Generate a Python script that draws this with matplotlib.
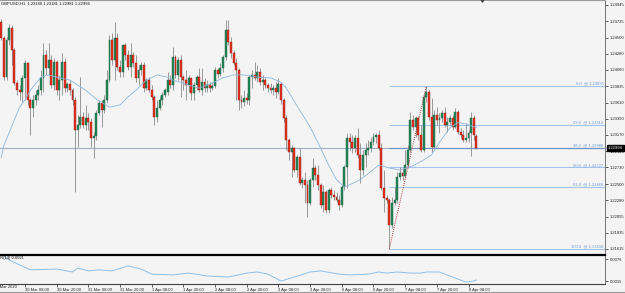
import matplotlib
matplotlib.use("Agg")
import matplotlib.pyplot as plt
import matplotlib.transforms as mtrans
from matplotlib.patches import Rectangle
from matplotlib.lines import Line2D

plt.rcParams['font.family'] = ['Liberation Sans', 'DejaVu Sans']

# ---------------- data ----------------
symbol_title = "GBPUSD,H1  1.23160 1.23181 1.22981 1.22994"

opens = [1.2471,1.2449,1.2396,1.2447,1.2463,1.2433,1.2388,1.2378,1.2376,1.2395,
         1.2415,1.2365,1.2354,1.2365,1.2372,1.2378,1.2395,1.2426,1.2409,1.2419,
         1.2385,1.2417,1.2378,1.2392,1.2417,1.2381,1.2387,1.2378,1.2365,1.2324,
         1.2331,1.2342,1.2331,1.2340,1.2335,1.2313,1.2316,1.2347,1.2361,1.2351,
         1.2365,1.2392,1.2447,1.2419,1.2449,1.2410,1.2403,1.2440,1.2426,1.2410,
         1.2426,1.2415,1.2395,1.2406,1.2413,1.2381,1.2392,1.2378,1.2369,1.2342,
         1.2354,1.2365,1.2372,1.2376,1.2392,1.2385,1.2424,1.2399,1.2419,1.2396,
         1.2392,1.2385,1.2395,1.2374,1.2385,1.2396,1.2378,1.2389,1.2381,1.2385,
         1.2381,1.2384,1.2406,1.2400,1.2409,1.2424,1.2460,1.2444,1.2429,1.2415,
         1.2406,1.2365,1.2362,1.2368,1.2365,1.2396,1.2399,1.2395,1.2403,1.2389,
         1.2392,1.2385,1.2381,1.2378,1.2381,1.2376,1.2387,1.2365,1.2340,1.2310,
         1.2294,1.2299,1.2269,1.2287,1.2252,1.2256,1.2249,1.2224,1.2256,1.2272,
         1.2262,1.2249,1.2222,1.2239,1.2215,1.2242,1.2235,1.2232,1.2228,1.2222,
         1.2246,1.2273,1.2313,1.2308,1.2299,1.2313,1.2290,1.2269,1.2290,1.2297,
         1.2299,1.2308,1.2314,1.2317,1.2299,1.2245,1.2231,1.2228,1.2194,1.2224,
         1.2228,1.2260,1.2265,1.2261,1.2276,1.2297,1.2338,1.2328,1.2340,1.2317,
         1.2297,1.2369,1.2376,1.2342,1.2301,1.2344,1.2338,1.2340,1.2347,1.2331,
         1.2335,1.2340,1.2328,1.2348,1.2321,1.2317,1.2310,1.2313,1.2320,1.2340,
         1.23160]
highs = [1.2475,1.2452,1.2451,1.2469,1.2467,1.2436,1.2392,1.2385,1.2399,1.2419,
         1.2417,1.2368,1.2372,1.2378,1.2385,1.2406,1.2443,1.2433,1.2443,1.2426,
         1.2422,1.2419,1.2399,1.2429,1.2422,1.2389,1.2392,1.2381,1.2369,1.2344,
         1.2396,1.2348,1.2358,1.2347,1.2340,1.2321,1.2351,1.2365,1.2365,1.2372,
         1.2406,1.2454,1.2456,1.2471,1.2456,1.2419,1.2440,1.2443,1.2433,1.2443,
         1.2430,1.2426,1.2413,1.2417,1.2417,1.2395,1.2396,1.2385,1.2372,1.2365,
         1.2370,1.2376,1.2381,1.2403,1.2399,1.2437,1.2426,1.2424,1.2426,1.2399,
         1.2406,1.2399,1.2395,1.2389,1.2399,1.2409,1.2409,1.2395,1.2392,1.2389,
         1.2389,1.2410,1.2409,1.2415,1.2426,1.2474,1.2474,1.2451,1.2433,1.2422,
         1.2409,1.2372,1.2378,1.2374,1.2399,1.2406,1.2417,1.2413,1.2409,1.2399,
         1.2395,1.2388,1.2388,1.2385,1.2389,1.2395,1.2389,1.2368,1.2344,1.2313,
         1.2303,1.2301,1.2290,1.2299,1.2260,1.2266,1.2256,1.2258,1.2286,1.2276,
         1.2276,1.2252,1.2249,1.2242,1.2245,1.2246,1.2242,1.2239,1.2235,1.2249,
         1.2276,1.2320,1.2320,1.2317,1.2317,1.2327,1.2306,1.2297,1.2306,1.2310,
         1.2314,1.2320,1.2320,1.2324,1.2306,1.2269,1.2235,1.2231,1.2232,1.2246,
         1.2266,1.2273,1.2272,1.2297,1.2303,1.2348,1.2344,1.2343,1.2343,1.2331,
         1.2372,1.23835,1.2378,1.2368,1.2351,1.2355,1.2347,1.2351,1.2355,1.2342,
         1.2344,1.2344,1.2354,1.2351,1.2327,1.2324,1.2333,1.2324,1.2348,1.2344,
         1.23181]
lows = [1.2447,1.2392,1.2392,1.2440,1.2413,1.2385,1.2372,1.2365,1.2362,1.2365,
        1.2358,1.2317,1.2342,1.2358,1.2365,1.2372,1.2376,1.2399,1.2399,1.2381,
        1.2378,1.2372,1.2365,1.2372,1.2376,1.2376,1.2372,1.2358,1.2239,1.2301,
        1.2327,1.2327,1.2324,1.2324,1.2301,1.2286,1.2310,1.2344,1.2328,1.2347,
        1.2361,1.2389,1.2413,1.2392,1.2406,1.2396,1.2396,1.2419,1.2406,1.2396,
        1.2410,1.2389,1.2385,1.2399,1.2376,1.2378,1.2376,1.2365,1.2331,1.2335,
        1.2351,1.2358,1.2369,1.2372,1.2381,1.2378,1.2395,1.2392,1.2369,1.2378,
        1.2365,1.2376,1.2365,1.2365,1.2378,1.2376,1.2372,1.2376,1.2376,1.2376,
        1.2378,1.2381,1.2395,1.2398,1.2403,1.2419,1.2440,1.2422,1.2413,1.2365,
        1.2351,1.2354,1.2357,1.2359,1.2358,1.2381,1.2392,1.2389,1.2385,1.2378,
        1.2381,1.2376,1.2374,1.2372,1.2368,1.2373,1.2359,1.2335,1.2297,1.2283,
        1.2260,1.2267,1.2260,1.2249,1.2245,1.2224,1.2205,1.2221,1.2246,1.2256,
        1.2242,1.2217,1.2212,1.2211,1.2211,1.2231,1.2228,1.2226,1.2215,1.2219,
        1.2242,1.2245,1.2297,1.2293,1.2294,1.2286,1.2252,1.2262,1.2273,1.2290,
        1.2294,1.2303,1.2306,1.2297,1.2242,1.2212,1.2224,1.21618,1.2190,1.2221,
        1.2224,1.2256,1.2256,1.2258,1.2272,1.2294,1.2324,1.2314,1.2310,1.2294,
        1.2294,1.2362,1.2338,1.2294,1.2299,1.2331,1.2320,1.2335,1.2328,1.2321,
        1.2331,1.2324,1.2327,1.2318,1.2313,1.2308,1.2308,1.2308,1.2288,1.2310,
        1.22981]
closes = [1.2449,1.2396,1.2447,1.2463,1.2433,1.2388,1.2378,1.2376,1.2395,1.2415,
          1.2365,1.2354,1.2365,1.2372,1.2378,1.2395,1.2426,1.2409,1.2419,1.2385,
          1.2417,1.2378,1.2392,1.2417,1.2381,1.2387,1.2378,1.2365,1.2324,1.2331,
          1.2342,1.2331,1.2340,1.2335,1.2313,1.2316,1.2347,1.2361,1.2351,1.2365,
          1.2392,1.2447,1.2419,1.2449,1.2410,1.2403,1.2440,1.2426,1.2410,1.2426,
          1.2415,1.2395,1.2406,1.2413,1.2381,1.2392,1.2378,1.2369,1.2342,1.2354,
          1.2365,1.2372,1.2378,1.2392,1.2385,1.2424,1.2399,1.2419,1.2396,1.2392,
          1.2385,1.2395,1.2374,1.2385,1.2396,1.2378,1.2389,1.2381,1.2385,1.2381,
          1.2384,1.2406,1.2400,1.2409,1.2424,1.2460,1.2444,1.2429,1.2415,1.2406,
          1.2365,1.2362,1.2368,1.2365,1.2396,1.2399,1.2395,1.2403,1.2389,1.2392,
          1.2385,1.2381,1.2378,1.2381,1.2376,1.2387,1.2365,1.2340,1.2310,1.2294,
          1.2299,1.2269,1.2287,1.2252,1.2256,1.2249,1.2224,1.2256,1.2272,1.2262,
          1.2249,1.2222,1.2239,1.2215,1.2242,1.2235,1.2232,1.2228,1.2222,1.2246,
          1.2273,1.2313,1.2308,1.2299,1.2313,1.2290,1.2269,1.2290,1.2297,1.2299,
          1.2308,1.2314,1.2317,1.2299,1.2245,1.2231,1.2228,1.2194,1.2224,1.2228,
          1.2260,1.2265,1.2261,1.2276,1.2297,1.2338,1.2328,1.2340,1.2317,1.2297,
          1.2369,1.2376,1.2342,1.2301,1.2344,1.2338,1.2340,1.2347,1.2331,1.2335,
          1.2340,1.2328,1.2348,1.2321,1.2317,1.2310,1.2313,1.2320,1.2340,1.2317,
          1.22994]

ma_bars = [0,1,3,5,7,9,11,15,18,21,26,29,32,36,41,45,48,51,55,59,63,65,68,71,75,
           80,84,88,92,97,102,106,108,110,113,117,121,124,127,130,132,136,140,
           143,147,151,156,160,163,166,170,173,176,180]
ma_values = [1.2286,1.2303,1.2320,1.2338,1.2355,1.2365,1.2378,1.2396,1.2399,1.2396,
             1.2392,1.2385,1.2378,1.2366,1.2355,1.2358,1.2369,1.2378,1.2392,1.2399,
             1.2396,1.2392,1.2389,1.2385,1.2381,1.2388,1.2395,1.2399,1.2399,1.2396,
             1.2395,1.2389,1.2381,1.2369,1.2351,1.2328,1.2299,1.2276,1.2256,1.2246,
             1.2249,1.2256,1.2267,1.2276,1.2272,1.2269,1.2275,1.2283,1.2290,1.2307,
             1.2327,1.2334,1.2332,1.2327]

atr_bars = [0,3,11,21,27,29,33,37,42,48,53,57,65,71,78,86,93,97,101,106,111,117,
            121,128,132,139,143,146,150,155,159,161,166,171,176,179,180]
atr_values = [0.0090,0.0073,0.0046,0.0048,0.0040,0.0051,0.0043,0.0046,0.0043,0.0057,
              0.0048,0.0034,0.0032,0.0037,0.0029,0.0026,0.0037,0.0040,0.0034,0.0015,
              0.0026,0.0040,0.0043,0.0034,0.0032,0.0034,0.0040,0.0037,0.0040,0.0037,
              0.0037,0.0040,0.0040,0.0026,0.0012,0.0015,0.0018]
atr_label = "ATR(14) 0.0021"
atr_ticks = [0.0076, 0.0015]

price_ticks = [1.24945,1.24725,1.24500,1.24280,1.24060,1.23835,1.23610,1.23390,
               1.23170,1.22945,1.22730,1.22500,1.22280,1.22055,1.21835,1.21615]
last_price = 1.22994

fib_start_bar = 147
fib_end_bar = 161
fib_ratios = ["0.0", "23.6", "38.2", "50.0", "61.8", "100.0"]
fib_values = [1.23835, 1.23312, 1.22988, 1.22727, 1.22466, 1.21618]

time_bars = [9,21,33,45,57,69,81,93,105,117,129,141,153,165,177]
time_labels = ["30 Mar 08:00","30 Mar 20:00","31 Mar 08:00","31 Mar 20:00",
               "1 Apr 08:00","1 Apr 20:00","2 Apr 08:00","2 Apr 20:00",
               "3 Apr 08:00","3 Apr 20:00","6 Apr 08:00","6 Apr 20:00",
               "7 Apr 08:00","7 Apr 20:00","8 Apr 08:00"]
first_time_label = "27 Mar 2020"

# ---------------- layout ----------------
W, H = 625, 293
BG = '#f4f4f4'
fig = plt.figure(figsize=(W/100, H/100), dpi=100, facecolor=BG)
ax = fig.add_axes([0, 1-253/H, 605/W, 253/H])
ax2 = fig.add_axes([0, 1-284/H, 605/W, 29/H])
XL = (-1.24/2.64, (605-1.24)/2.64)
for a in (ax, ax2):
    a.set_facecolor(BG)
    a.set_xlim(*XL)
    a.spines['left'].set_visible(False)
    a.spines['right'].set_color('#606060')
    a.spines['right'].set_linewidth(0.6)
ax.set_ylim(1.21559, 1.25013)
ax2.set_ylim(0.00067, 0.00871)

ax.spines['bottom'].set_visible(False)
ax.spines['top'].set_color('#9a9a9a')
ax.spines['top'].set_linewidth(0.8)
ax2.spines['top'].set_color('black')
ax2.spines['top'].set_linewidth(1.6)
ax2.spines['bottom'].set_color('#404040')
ax2.spines['bottom'].set_linewidth(0.8)

# ---------------- candles ----------------
n = len(closes)
xs = list(range(n))
ax.vlines(xs, lows, highs, color='#8a8a8a', lw=0.6, zorder=2)
bull = [i for i in xs if closes[i] >= opens[i]]
bear = [i for i in xs if closes[i] < opens[i]]
ax.bar(bull, [max(closes[i]-opens[i], 0.00003) for i in bull],
       bottom=[opens[i] for i in bull], width=0.72,
       color='#23865a', edgecolor='#16603d', lw=0.3, zorder=3)
ax.bar(bear, [opens[i]-closes[i] for i in bear],
       bottom=[closes[i] for i in bear], width=0.72,
       color='#e8321e', edgecolor='#8b1a12', lw=0.3, zorder=3)

# moving average
ax.plot(ma_bars, ma_values, color='#8fb7da', lw=0.6, zorder=4)

# current price line
ax.axhline(last_price, color='#9fb0c6', lw=0.8, zorder=1)

# fibonacci
ax.hlines(fib_values, fib_start_bar, XL[1], color='#a3c4ee', lw=0.8, zorder=1)
ax.hlines(fib_values[2], fib_start_bar, XL[1], color='#6f93c4', lw=0.8, zorder=1)
for r, v in zip(fib_ratios, fib_values):
    ax.text(XL[1]-0.6, v + 0.00006, f"{r}  @ {v:.5f}", fontsize=3,
            color='#6f9bd6', ha='right', va='bottom', zorder=5)
ax.plot([fib_start_bar, fib_end_bar], [fib_values[-1], fib_values[0]],
        ls=(0, (1, 1.2)), color='#b03535', lw=0.7, zorder=5)

# top marker
ax.plot([182], [1.25013], marker='v', ms=2.5, color='#404040',
        clip_on=False, zorder=6)

# price axis
ax.yaxis.tick_right()
ax.set_yticks(price_ticks)
ax.set_yticklabels([f"{v:.5f}" for v in price_ticks])
ax.tick_params(axis='y', length=2, width=0.5, pad=1.2, labelsize=3,
               colors='#222222')
ax.tick_params(axis='x', bottom=False, labelbottom=False)
ax.annotate(f"{last_price:.5f}", xy=(1.0, last_price),
            xycoords=mtrans.blended_transform_factory(ax.transAxes, ax.transData),
            xytext=(2.2, 0), textcoords='offset points', fontsize=3,
            color='white', ha='left', va='center', annotation_clip=False,
            bbox=dict(boxstyle='square,pad=0.25', fc='black', ec='black'),
            zorder=10)

# title
fig.text(1/W, 1-4/H, symbol_title, fontsize=3, color='#111111',
         ha='left', va='center')

# ---------------- ATR sub-window ----------------
ax2.plot(atr_bars, atr_values, color='#8ec0ea', lw=0.7)
ax2.yaxis.tick_right()
ax2.set_yticks(atr_ticks)
ax2.set_yticklabels([f"{v:.4f}" for v in atr_ticks])
ax2.tick_params(axis='y', length=2, width=0.5, pad=1.2, labelsize=3,
                colors='#222222')
ax2.text(-5/605, (284-258)/29, atr_label, transform=ax2.transAxes,
         fontsize=3, color='#111111', ha='left', va='center', clip_on=False)

ax2.set_xticks(time_bars)
ax2.set_xticklabels(time_labels)
ax2.tick_params(axis='x', length=2, width=0.5, pad=1.2, labelsize=3,
                colors='#222222')
for lbl in ax2.get_xticklabels():
    lbl.set_ha('left')
ax2.text((-6-1.24)/2.64, -0.10, first_time_label, fontsize=3, color='#222222',
         transform=mtrans.blended_transform_factory(ax2.transData, ax2.transAxes),
         ha='left', va='center', clip_on=False)

# bottom tab strip
fig.add_artist(Line2D([0, 1], [1-291.5/H]*2, transform=fig.transFigure,
                      color='#9a9a9a', lw=0.8))
fig.add_artist(Rectangle((67/W, 0), 33/W, 1.5/H, transform=fig.transFigure,
                         fc='white', ec='none'))

fig.savefig("out.png", dpi=100, facecolor=BG)
